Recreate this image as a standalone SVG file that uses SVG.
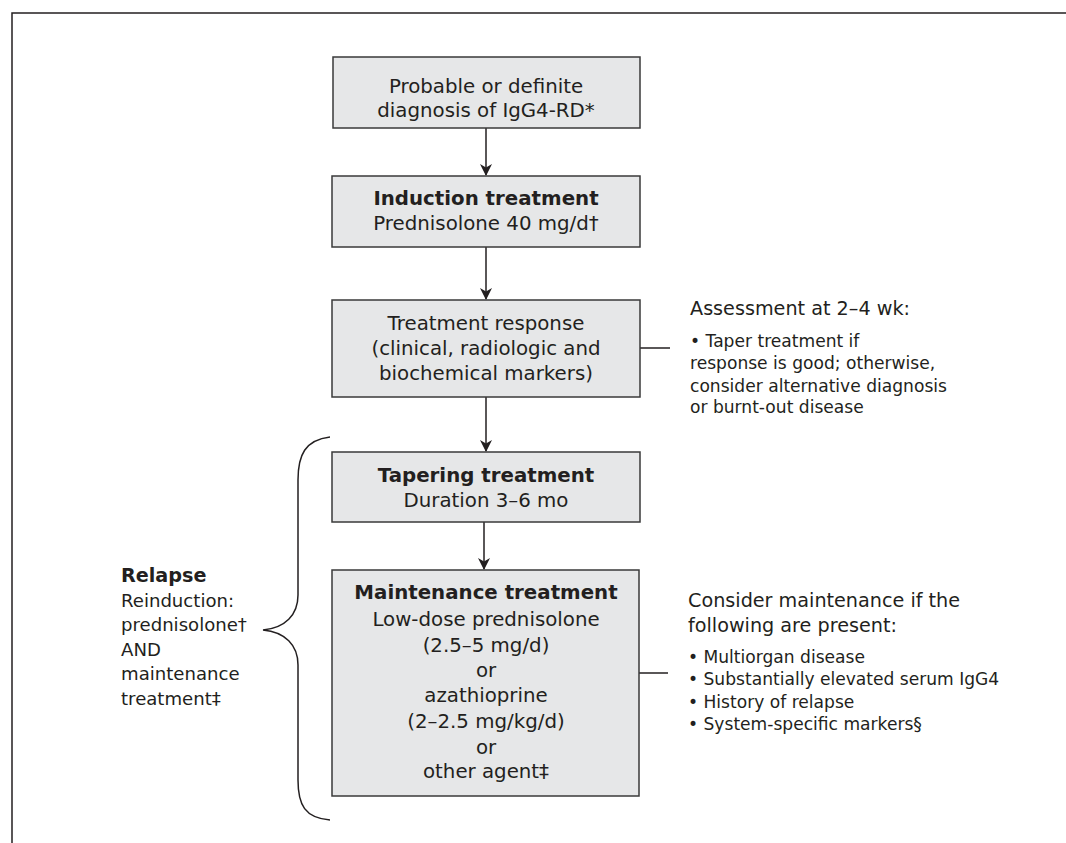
<svg xmlns="http://www.w3.org/2000/svg" width="1066" height="843" viewBox="0 0 1066 843">
<defs>
<marker id="ah" viewBox="0 0 12 12" refX="11" refY="6" markerWidth="12" markerHeight="12" markerUnits="userSpaceOnUse" orient="auto">
<path d="M0,0 L12,6 L0,12 L3.5,6 Z" fill="#231f20"/>
</marker>
<style>
.box{fill:#e6e7e8;stroke:#3a3a3a;stroke-width:1.5}
.t{font-family:"DejaVu Sans","Noto Sans",sans-serif;font-size:19.8px;fill:#231f20;text-anchor:middle}
.b{font-weight:bold}
.s{font-family:"DejaVu Sans","Noto Sans",sans-serif;font-size:17.1px;fill:#231f20}
.r{font-family:"DejaVu Sans","Noto Sans",sans-serif;font-size:18.1px;fill:#231f20}
.h{font-family:"DejaVu Sans","Noto Sans",sans-serif;font-size:19.2px;fill:#231f20}
.ln{stroke:#231f20;stroke-width:1.5;fill:none}
</style>
</defs>
<rect width="1066" height="843" fill="#ffffff"/>
<path class="ln" d="M12,843 V13 H1066" stroke-width="2"/>
<g id="connectors">
<line class="ln" x1="486" y1="128" x2="486" y2="175" marker-end="url(#ah)"/>
<line class="ln" x1="486" y1="247" x2="486" y2="299" marker-end="url(#ah)"/>
<line class="ln" x1="486" y1="397" x2="486" y2="451" marker-end="url(#ah)"/>
<line class="ln" x1="484" y1="522" x2="484" y2="569" marker-end="url(#ah)"/>
<line class="ln" x1="640" y1="348" x2="670" y2="348"/>
<line class="ln" x1="639" y1="673" x2="668" y2="673"/>
<path id="brace" class="ln" d="M330,437 C305,440 298,455 298,480 L298,595 C298,615 285,628 263,630 C285,632 298,645 298,665 L298,780 C298,805 305,818 330,820"/>
</g>
<g id="n1">
<rect class="box" x="333" y="57" width="307" height="71"/>
<text class="t" x="486" y="93">Probable or definite</text>
<text class="t" x="486" y="117">diagnosis of IgG4-RD*</text>
</g>
<g id="n2">
<rect class="box" x="332" y="176" width="308" height="71"/>
<text class="t b" x="486" y="205">Induction treatment</text>
<text class="t" x="486" y="230">Prednisolone 40 mg/d†</text>
</g>
<g id="n3">
<rect class="box" x="332" y="300" width="308" height="97"/>
<text class="t" x="486" y="330">Treatment response</text>
<text class="t" x="486" y="355">(clinical, radiologic and</text>
<text class="t" x="486" y="380">biochemical markers)</text>
</g>
<g id="n4">
<rect class="box" x="332" y="452" width="308" height="70"/>
<text class="t b" x="486" y="482">Tapering treatment</text>
<text class="t" x="486" y="507">Duration 3–6 mo</text>
</g>
<g id="n5">
<rect class="box" x="332" y="570" width="307" height="226"/>
<text class="t b" x="486" y="599">Maintenance treatment</text>
<text class="t" x="486" y="626">Low-dose prednisolone</text>
<text class="t" x="486" y="652">(2.5–5 mg/d)</text>
<text class="t" x="486" y="677">or</text>
<text class="t" x="486" y="702">azathioprine</text>
<text class="t" x="486" y="728">(2–2.5 mg/kg/d)</text>
<text class="t" x="486" y="754">or</text>
<text class="t" x="486" y="778">other agent‡</text>
</g>
<g id="assess">
<text class="h" x="690" y="315">Assessment at 2–4 wk:</text>
<text class="s" x="690" y="347">• Taper treatment if</text>
<text class="s" x="690" y="369">response is good; otherwise,</text>
<text class="s" x="690" y="392">consider alternative diagnosis</text>
<text class="s" x="690" y="413">or burnt-out disease</text>
</g>
<g id="consider">
<text class="h" x="688" y="607">Consider maintenance if the</text>
<text class="h" x="688" y="632">following are present:</text>
<text class="s" x="688" y="663">• Multiorgan disease</text>
<text class="s" x="688" y="685">• Substantially elevated serum IgG4</text>
<text class="s" x="688" y="708">• History of relapse</text>
<text class="s" x="688" y="730">• System-specific markers§</text>
</g>
<g id="relapse">
<text class="h b" x="121" y="582">Relapse</text>
<text class="r" x="121" y="607">Reinduction:</text>
<text class="r" x="121" y="631">prednisolone†</text>
<text class="r" x="121" y="656">AND</text>
<text class="r" x="121" y="680">maintenance</text>
<text class="r" x="121" y="705">treatment‡</text>
</g>
</svg>
